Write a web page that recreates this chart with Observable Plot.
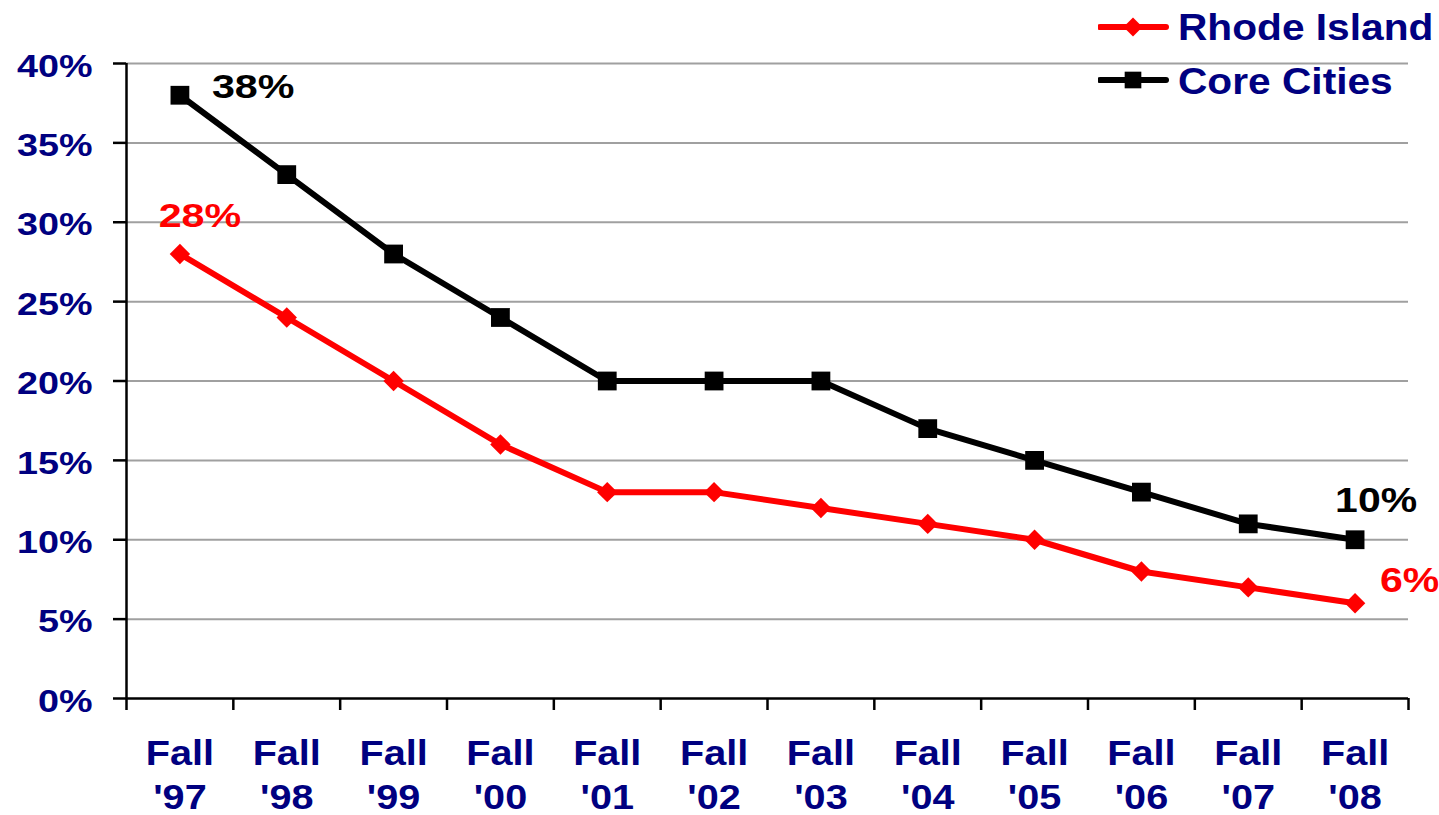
<!DOCTYPE html>
<html>
<head>
<meta charset="utf-8">
<script src="https://cdn.jsdelivr.net/npm/d3@7"></script>
<script src="https://cdn.jsdelivr.net/npm/@observablehq/plot@0.6"></script>
<style>
  body { margin: 0; background: #fff; }
  #wrap { position: relative; width: 1439px; height: 815px; font-family: "Liberation Sans", Arial, sans-serif; }
  #legend { position: absolute; left: 1098px; top: 0; }
</style>
</head>
<body>
<div id="wrap"><div id="chart"></div><svg id="legend" width="341" height="110"></svg></div>
<script>
// ---- data ----
const categoryTop = ["Fall", "Fall", "Fall", "Fall", "Fall", "Fall", "Fall", "Fall", "Fall", "Fall", "Fall", "Fall"];
const categoryBottom = ["'97", "'98", "'99", "'00", "'01", "'02", "'03", "'04", "'05", "'06", "'07", "'08"];
const rhodeIsland = [28, 24, 20, 16, 13, 13, 12, 11, 10, 8, 7, 6];
const coreCities = [38, 33, 28, 24, 20, 20, 20, 17, 15, 13, 11, 10];
const yTicks = [0, 5, 10, 15, 20, 25, 30, 35, 40];
const seriesNames = ["Rhode Island", "Core Cities"];
const seriesColors = ["#ff0000", "#000000"];
const navy = "#000080";

const cats = categoryBottom.map((b, i) => ({i, x: i + 0.5, top: categoryTop[i], bottom: b}));
const ri = rhodeIsland.map((v, i) => ({x: i + 0.5, y: v}));
const cc = coreCities.map((v, i) => ({x: i + 0.5, y: v}));
const boundaries = d3.range(0, categoryBottom.length + 1);

const riFirst = [ri[0]], riLast = [ri[ri.length - 1]];
const ccFirst = [cc[0]], ccLast = [cc[cc.length - 1]];
const pct = d => d.y + "%";

const plot = Plot.plot({
  width: 1439,
  height: 815,
  marginLeft: 126,
  marginRight: 31,
  marginTop: 63,
  marginBottom: 117,
  style: {fontFamily: '"Liberation Sans", Arial, sans-serif', background: "#fff", overflow: "visible"},
  x: {type: "linear", domain: [0, categoryBottom.length], axis: null},
  y: {domain: [0, 40], axis: null},
  marks: [
    Plot.gridY(yTicks.filter(d => d > 0), {stroke: "#a0a0a0", strokeOpacity: 1, strokeWidth: 2}),
    Plot.axisY({ticks: yTicks, tickSize: 13, tickPadding: 21, tickFormat: d => d + "%", label: null,
      fontSize: 32, fontWeight: "bold", fill: navy, stroke: "black", strokeWidth: 2.5}),
    Plot.axisX({ticks: boundaries, tickSize: 12, tickFormat: () => "", label: null, stroke: "black", strokeWidth: 2.5}),
    Plot.ruleY([0], {stroke: "black", strokeWidth: 2.5}),
    Plot.ruleX([0], {stroke: "black", strokeWidth: 2.5}),
    Plot.text(cats, {x: "x", text: "top", frameAnchor: "bottom", lineAnchor: "bottom", dy: 66,
      fontSize: 36, fontWeight: "bold", fill: navy, className: "xlab"}),
    Plot.text(cats, {x: "x", text: "bottom", frameAnchor: "bottom", lineAnchor: "bottom", dy: 110,
      fontSize: 36, fontWeight: "bold", fill: navy, className: "xlab"}),
    Plot.line(cc, {x: "x", y: "y", stroke: seriesColors[1], strokeWidth: 6, strokeLinejoin: "round"}),
    Plot.line(ri, {x: "x", y: "y", stroke: seriesColors[0], strokeWidth: 6, strokeLinejoin: "round"}),
    Plot.dot(cc, {x: "x", y: "y", symbol: "square", r: 10.6, fill: seriesColors[1], stroke: null}),
    Plot.dot(ri, {x: "x", y: "y", symbol: "diamond2", r: 9.2, fill: seriesColors[0], stroke: null}),
    Plot.text(ccFirst, {x: "x", y: "y", text: pct, textAnchor: "start", lineAnchor: "bottom", dx: 32, dy: 3,
      fontSize: 33, fontWeight: "bold", fill: seriesColors[1], className: "annotA"}),
    Plot.text(riFirst, {x: "x", y: "y", text: pct, textAnchor: "middle", lineAnchor: "bottom", dx: 20, dy: -27,
      fontSize: 33, fontWeight: "bold", fill: seriesColors[0], className: "annotA"}),
    Plot.text(ccLast, {x: "x", y: "y", text: pct, textAnchor: "middle", lineAnchor: "bottom", dx: 21, dy: -28,
      fontSize: 35, fontWeight: "bold", fill: seriesColors[1], className: "annotB"}),
    Plot.text(riLast, {x: "x", y: "y", text: pct, textAnchor: "start", lineAnchor: "bottom", dx: 25, dy: -11,
      fontSize: 35, fontWeight: "bold", fill: seriesColors[0], className: "annotB"})
  ]
});
document.getElementById("chart").appendChild(plot);

// horizontal stretch of text about its anchor point (reference glyphs are wider)
function stretch(selector, s, extraY = 0) {
  plot.querySelectorAll(selector).forEach(t => {
    const tr = t.getAttribute("transform") || "";
    t.setAttribute("transform", `${tr} translate(0,${extraY}) scale(${s},1)`);
  });
}
stretch('g[aria-label="y-axis tick label"] text', 1.18, 3);
stretch('.xlab text', 1.1);
stretch('.annotA text', 1.25);
stretch('.annotB text', 1.17);

// legend
const lg = d3.select("#legend");
seriesNames.forEach((name, k) => {
  const cy = k === 0 ? 27 : 80;
  const base = k === 0 ? 40 : 94;
  lg.append("line").attr("x1", 2).attr("x2", 68).attr("y1", cy).attr("y2", cy)
    .attr("stroke", seriesColors[k]).attr("stroke-width", 6).attr("stroke-linecap", "round");
  lg.append("path").attr("transform", `translate(35,${cy})`)
    .attr("d", d3.symbol(k === 0 ? d3.symbolDiamond2 : d3.symbolSquare, k === 0 ? 8.6 * 8.6 * Math.PI : 9.4 * 9.4 * Math.PI)())
    .attr("fill", seriesColors[k]);
  lg.append("text").attr("transform", `translate(80,${base}) scale(1.085,1)`)
    .attr("font-family", '"Liberation Sans", Arial, sans-serif').attr("font-weight", "bold")
    .attr("font-size", 37.5).attr("fill", navy).text(name);
});
</script>
</body>
</html>
